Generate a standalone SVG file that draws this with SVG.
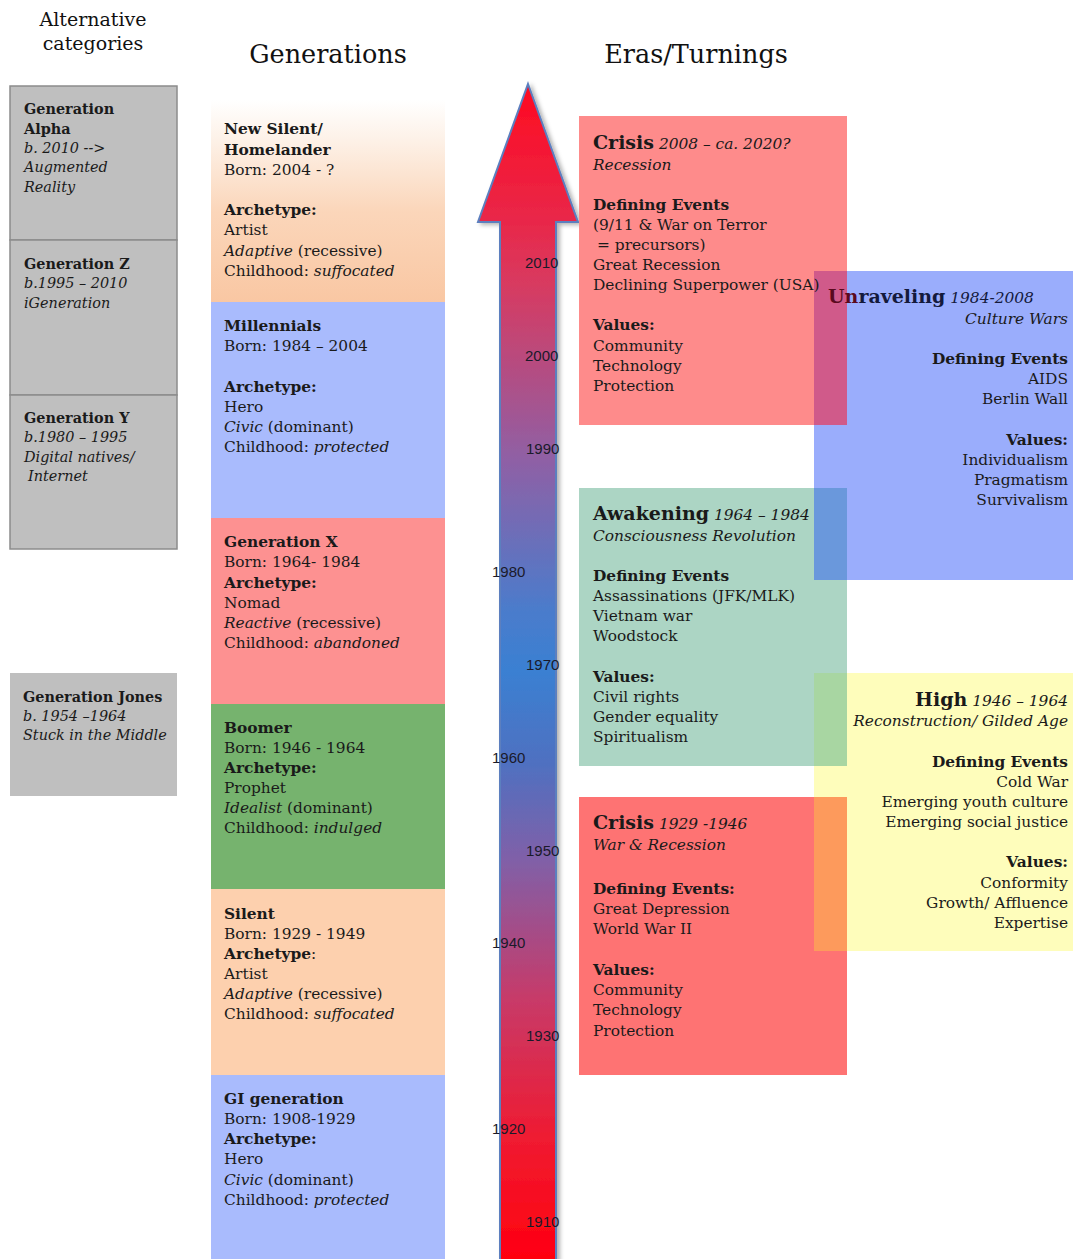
<svg xmlns="http://www.w3.org/2000/svg" width="1073" height="1259" viewBox="0 0 1073 1259">
<style>
text{font-family:"DejaVu Serif","Liberation Serif",serif;fill:#1a1a1a;font-size:15.4px}
.h{font-size:25.5px;fill:#111}
.ha{font-size:19px;fill:#111}
.g{font-size:14.4px}
.b{font-weight:bold}
.i{font-style:italic}
.tt{font-size:19px;font-weight:bold}
.r{text-anchor:end}
.yr{font-family:"Liberation Sans",Arial,sans-serif;font-size:15px;fill:#1a1a2a}
.gray{fill:#bfbfbf;stroke:#8c8c8c;stroke-width:1.5}
</style>
<defs>
<linearGradient id="ns" x1="0" y1="0" x2="0" y2="1">
<stop offset="0" stop-color="#ffffff"/>
<stop offset="0.2" stop-color="#fdf1e7"/>
<stop offset="0.55" stop-color="#fbd6ba"/>
<stop offset="1" stop-color="#f9c7a3"/>
</linearGradient>
<linearGradient id="arr" gradientUnits="userSpaceOnUse" x1="0" y1="83" x2="0" y2="1259">
<stop offset="0" stop-color="#ff0a20"/>
<stop offset="0.12" stop-color="#e8284a"/>
<stop offset="0.17" stop-color="#d83a60"/>
<stop offset="0.32" stop-color="#8f60a5"/>
<stop offset="0.45" stop-color="#4a7ccc"/>
<stop offset="0.5" stop-color="#3a80d2"/>
<stop offset="0.58" stop-color="#5070c0"/>
<stop offset="0.66" stop-color="#8060a8"/>
<stop offset="0.78" stop-color="#c83a68"/>
<stop offset="0.9" stop-color="#f01a30"/>
<stop offset="1" stop-color="#ff0010"/>
</linearGradient>
<filter id="sh" x="-20%" y="-5%" width="140%" height="110%">
<feDropShadow dx="3" dy="2" stdDeviation="2" flood-color="#000" flood-opacity="0.3"/>
</filter>
</defs>
<rect width="1073" height="1259" fill="#ffffff"/>

<g id="titles">
<text class="ha" x="93" y="26" text-anchor="middle">Alternative</text>
<text class="ha" x="93" y="50" text-anchor="middle">categories</text>
<text class="h" x="328" y="63" text-anchor="middle">Generations</text>
<text class="h" x="696" y="63" text-anchor="middle">Eras/Turnings</text>
</g>

<g id="alt-alpha">
<rect class="gray" x="10" y="86" width="167" height="154"/>
<text class="g b" x="24" y="114">Generation</text>
<text class="g b" x="24" y="134">Alpha</text>
<text class="g i" x="24" y="153">b. 2010 --&gt;</text>
<text class="g i" x="24" y="172">Augmented</text>
<text class="g i" x="24" y="192">Reality</text>
</g>
<g id="alt-z">
<rect class="gray" x="10" y="240" width="167" height="155"/>
<text class="g b" x="24" y="269">Generation Z</text>
<text class="g i" x="24" y="288">b.1995 – 2010</text>
<text class="g i" x="24" y="308">iGeneration</text>
</g>
<g id="alt-y">
<rect class="gray" x="10" y="395" width="167" height="154"/>
<text class="g b" x="24" y="423">Generation Y</text>
<text class="g i" x="24" y="442">b.1980 – 1995</text>
<text class="g i" x="24" y="462">Digital natives/</text>
<text class="g i" x="28" y="481">Internet</text>
</g>
<g id="alt-jones">
<rect x="10" y="673" width="167" height="123" fill="#bfbfbf"/>
<text class="g b" x="23" y="702">Generation Jones</text>
<text class="g i" x="23" y="721">b. 1954 –1964</text>
<text class="g i" x="23" y="740">Stuck in the Middle</text>
</g>

<g id="gen-newsilent">
<rect x="211" y="100" width="234" height="202" fill="url(#ns)"/>
<text class="b" x="224" y="134">New Silent/</text>
<text class="b" x="224" y="155">Homelander</text>
<text x="224" y="175">Born: 2004 - ?</text>
<text class="b" x="224" y="215">Archetype:</text>
<text x="224" y="235">Artist</text>
<text x="224" y="256"><tspan class="i">Adaptive</tspan> (recessive)</text>
<text x="224" y="276">Childhood: <tspan class="i">suffocated</tspan></text>
</g>
<g id="gen-millennials">
<rect x="211" y="302" width="234" height="216" fill="#a9bbfd"/>
<text class="b" x="224" y="331">Millennials</text>
<text x="224" y="351">Born: 1984 – 2004</text>
<text class="b" x="224" y="392">Archetype:</text>
<text x="224" y="412">Hero</text>
<text x="224" y="432"><tspan class="i">Civic</tspan> (dominant)</text>
<text x="224" y="452">Childhood: <tspan class="i">protected</tspan></text>
</g>
<g id="gen-x">
<rect x="211" y="518" width="234" height="186" fill="#fd9191"/>
<text class="b" x="224" y="547">Generation X</text>
<text x="224" y="567">Born: 1964- 1984</text>
<text class="b" x="224" y="588">Archetype:</text>
<text x="224" y="608">Nomad</text>
<text x="224" y="628"><tspan class="i">Reactive</tspan> (recessive)</text>
<text x="224" y="648">Childhood: <tspan class="i">abandoned</tspan></text>
</g>
<g id="gen-boomer">
<rect x="211" y="704" width="234" height="185" fill="#76b36e"/>
<text class="b" x="224" y="733">Boomer</text>
<text x="224" y="753">Born: 1946 - 1964</text>
<text class="b" x="224" y="773">Archetype:</text>
<text x="224" y="793">Prophet</text>
<text x="224" y="813"><tspan class="i">Idealist</tspan> (dominant)</text>
<text x="224" y="833">Childhood: <tspan class="i">indulged</tspan></text>
</g>
<g id="gen-silent">
<rect x="211" y="889" width="234" height="186" fill="#fdd0ae"/>
<text class="b" x="224" y="919">Silent</text>
<text x="224" y="939">Born: 1929 - 1949</text>
<text x="224" y="959"><tspan class="b">Archetype</tspan>:</text>
<text x="224" y="979">Artist</text>
<text x="224" y="999"><tspan class="i">Adaptive</tspan> (recessive)</text>
<text x="224" y="1019">Childhood: <tspan class="i">suffocated</tspan></text>
</g>
<g id="gen-gi">
<rect x="211" y="1075" width="234" height="184" fill="#a9bbfd"/>
<text class="b" x="224" y="1104">GI generation</text>
<text x="224" y="1124">Born: 1908-1929</text>
<text class="b" x="224" y="1144">Archetype:</text>
<text x="224" y="1164">Hero</text>
<text x="224" y="1185"><tspan class="i">Civic</tspan> (dominant)</text>
<text x="224" y="1205">Childhood: <tspan class="i">protected</tspan></text>
</g>

<g id="timeline-arrow">
<path d="M528,84 L578,222 L556,222 L556,1262 L500,1262 L500,222 L478,222 Z" fill="url(#arr)" stroke="#5b7fbf" stroke-width="2" stroke-linejoin="miter" filter="url(#sh)"/>
<text class="yr" x="525" y="268">2010</text>
<text class="yr" x="525" y="361">2000</text>
<text class="yr" x="526" y="454">1990</text>
<text class="yr" x="492" y="577">1980</text>
<text class="yr" x="526" y="670">1970</text>
<text class="yr" x="492" y="763">1960</text>
<text class="yr" x="526" y="856">1950</text>
<text class="yr" x="492" y="948">1940</text>
<text class="yr" x="526" y="1041">1930</text>
<text class="yr" x="492" y="1134">1920</text>
<text class="yr" x="526" y="1227">1910</text>
</g>

<g id="era-rects">
<rect x="579" y="116" width="268" height="309" fill="#fe8b8b"/>
<rect x="814" y="271" width="259" height="309" fill="#9aadfc"/>
<rect x="579" y="488" width="268" height="278" fill="#acd5c4"/>
<rect x="814" y="673" width="259" height="278" fill="#fefdbb"/>
<rect x="579" y="797" width="268" height="278" fill="#fe7373"/>
<rect x="814" y="271" width="33" height="154" fill="#d05a8a"/>
<rect x="814" y="488" width="33" height="92" fill="#6a98dc"/>
<rect x="814" y="673" width="33" height="93" fill="#a8d6a2"/>
<rect x="814" y="797" width="33" height="154" fill="#fd9a5c"/>
</g>

<g id="era-crisis-2008">
<text x="593" y="149"><tspan class="tt">Crisis</tspan> <tspan class="i">2008 – ca. 2020?</tspan></text>
<text class="i" x="593" y="170">Recession</text>
<text class="b" x="593" y="210">Defining Events</text>
<text x="593" y="230">(9/11 &amp; War on Terror</text>
<text x="597" y="250">= precursors)</text>
<text x="593" y="270">Great Recession</text>
<text x="593" y="290">Declining Superpower (USA)</text>
<text class="b" x="593" y="330">Values:</text>
<text x="593" y="351">Community</text>
<text x="593" y="371">Technology</text>
<text x="593" y="391">Protection</text>
</g>
<g id="era-unraveling">
<text x="828" y="303"><tspan class="tt" fill="#5a0a1e">Un</tspan><tspan class="tt" fill="#141a3c">raveling</tspan> <tspan class="i" fill="#141a3c">1984-2008</tspan></text>
<text class="i r" x="1068" y="324" fill="#141a3c">Culture Wars</text>
<text class="b r" x="1068" y="364" fill="#141a3c">Defining Events</text>
<text class="r" x="1068" y="384" fill="#141a3c">AIDS</text>
<text class="r" x="1068" y="404" fill="#141a3c">Berlin Wall</text>
<text class="b r" x="1068" y="445" fill="#141a3c">Values:</text>
<text class="r" x="1068" y="465" fill="#141a3c">Individualism</text>
<text class="r" x="1068" y="485" fill="#141a3c">Pragmatism</text>
<text class="r" x="1068" y="505" fill="#141a3c">Survivalism</text>
</g>
<g id="era-awakening">
<text x="593" y="520"><tspan class="tt">Awakening</tspan> <tspan class="i">1964 – 1984</tspan></text>
<text class="i" x="593" y="541">Consciousness Revolution</text>
<text class="b" x="593" y="581">Defining Events</text>
<text x="593" y="601">Assassinations (JFK/MLK)</text>
<text x="593" y="621">Vietnam war</text>
<text x="593" y="641">Woodstock</text>
<text class="b" x="593" y="682">Values:</text>
<text x="593" y="702">Civil rights</text>
<text x="593" y="722">Gender equality</text>
<text x="593" y="742">Spiritualism</text>
</g>
<g id="era-high">
<text class="r" x="1068" y="706"><tspan class="tt">High</tspan> <tspan class="i">1946 – 1964</tspan></text>
<text class="i r" x="1068" y="726">Reconstruction/ Gilded Age</text>
<text class="b r" x="1068" y="767">Defining Events</text>
<text class="r" x="1068" y="787">Cold War</text>
<text class="r" x="1068" y="807">Emerging youth culture</text>
<text class="r" x="1068" y="827">Emerging social justice</text>
<text class="b r" x="1068" y="867">Values:</text>
<text class="r" x="1068" y="888">Conformity</text>
<text class="r" x="1068" y="908">Growth/ Affluence</text>
<text class="r" x="1068" y="928">Expertise</text>
</g>
<g id="era-crisis-1929">
<text x="593" y="829"><tspan class="tt">Crisis</tspan> <tspan class="i">1929 -1946</tspan></text>
<text class="i" x="593" y="850">War &amp; Recession</text>
<text class="b" x="593" y="894">Defining Events:</text>
<text x="593" y="914">Great Depression</text>
<text x="593" y="934">World War II</text>
<text class="b" x="593" y="975">Values:</text>
<text x="593" y="995">Community</text>
<text x="593" y="1015">Technology</text>
<text x="593" y="1036">Protection</text>
</g>
</svg>
